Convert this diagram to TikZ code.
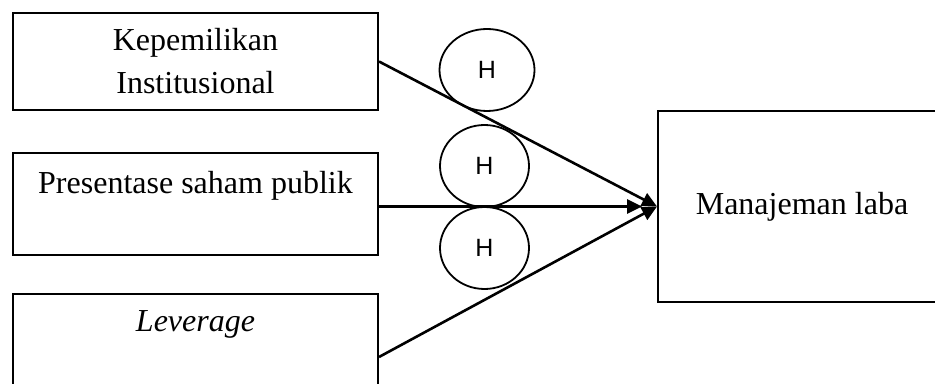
\documentclass[tikz,border=0pt]{standalone}
\usepackage{fontspec}
\setmainfont{Liberation Serif}
\newfontfamily\hfont{Liberation Sans}
\usetikzlibrary{arrows.meta,positioning,shapes.geometric}

\begin{document}
\begin{tikzpicture}[
  x=0.5pt, y=-0.5pt,
  font=\fontsize{16}{21.5}\selectfont,
  >={Triangle[length=7.5pt, width=7pt]},
  box/.style={draw, line width=1pt, inner sep=0pt, align=center, minimum width=182.5pt},
  hyp/.style={draw, ellipse, line width=0.9pt, inner sep=0pt, font=\hfont\fontsize{12.5}{15}\selectfont},
  flow/.style={->, line width=1.3pt},
]
\clip (0,0) rectangle (935,384);

% ---- independent variables -------------------------------------------------
\node[box, minimum height=48.5pt] (inst) at (195.5,61.5) {Kepemilikan\\Institusional};
\node[box, minimum height=51pt, below=20.5pt of inst] (pub) {Presentase saham publik\\\mbox{}};
\node[box, minimum height=63pt, below=18.5pt of pub]  (lev) {\textit{Leverage}\\\mbox{}\\[-7pt]\mbox{}};

% ---- dependent variable --------------------------------------------------------
\node[box, minimum width=144pt, minimum height=95.5pt] (laba) at (802,206.5) {Manajeman laba};

% ---- hypotheses ------------------------------------------------------------------
\node[hyp, minimum width=47.5pt, minimum height=41pt] (h1) at (487,70)    {H};
\node[hyp, minimum width=44.5pt, minimum height=41pt] (h2) at (484.5,166) {H};
\node[hyp, minimum width=44.5pt, minimum height=41pt] (h3) at (484.5,248) {H};

% ---- arrows ------------------------------------------------------------------------
\draw[flow] (inst.east) -- (laba.west);
\draw[flow, shorten >=7.5pt] (laba.west -| pub.east) -- (laba.west);
\draw[flow] (lev.east) -- (laba.west);

\end{tikzpicture}
\end{document}
